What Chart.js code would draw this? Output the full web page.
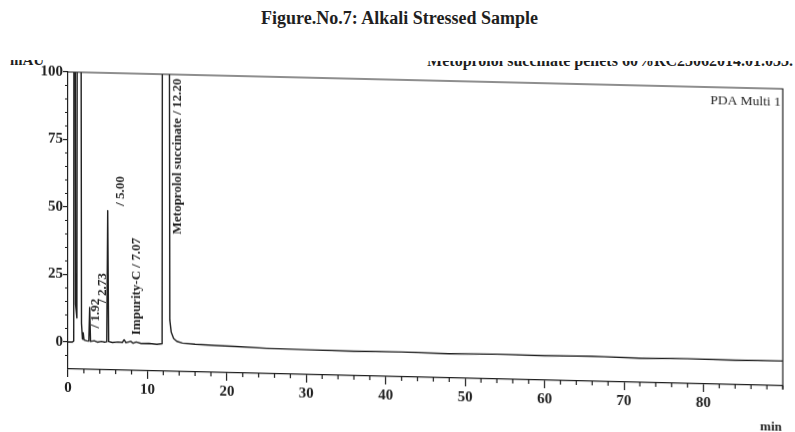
<!DOCTYPE html>
<html>
<head>
<meta charset="utf-8">
<title>Alkali Stressed Sample</title>
<script src="https://cdn.jsdelivr.net/npm/chart.js@4.4.1/dist/chart.umd.min.js"></script>
<style>
  html, body { margin: 0; padding: 0; background: #fff; }
  body { width: 795px; height: 432px; position: relative; overflow: hidden;
         font-family: "Liberation Serif", "Times New Roman", serif; color: #1f1f1f; }
  #title { position: absolute; top: 9px; left: 2px; width: 795px; text-align: center;
           font-weight: bold; font-size: 18px; line-height: 1; }
  /* printout header, cut off at the top edge of the scan */
  .strip { position: absolute; left: 0; width: 795px; height: 16px; overflow: hidden; }
  .strip span { position: absolute; font-weight: bold; white-space: nowrap; line-height: 1; }
  #unitStrip { top: 60px; }
  #fileStrip { top: 61px; }
  #unit { left: 10px; top: -7px; font-size: 15px; }
  #file { right: 2px; top: -8px; font-size: 16px; }
  /* the scanned trace sits slightly tilted on the page */
  #plot { position: absolute; left: 0; top: 0; width: 795px; height: 432px;
          transform-origin: 68px 342px; transform: skewY(1.35deg); }
</style>
</head>
<body>
<div id="title">Figure.No.7: Alkali Stressed Sample</div>
<div class="strip" id="unitStrip"><span id="unit">mAU</span></div>
<div class="strip" id="fileStrip"><span id="file">Metoprolol succinate pellets 60%RC25062014.01.033.</span></div>
<div id="plot"><canvas id="chart" width="795" height="432"></canvas></div>

<script>
  'use strict';

  // ---- chromatogram trace (time in min, absorbance in mAU) ----
  const retentionTimes = [
    0, 0.55, 0.72, 0.82, 0.95, 1.12, 1.30, 1.42, 1.50, 1.70, 1.82, 1.92, 2.02,
    2.35, 2.62, 2.73, 2.84, 3.30, 3.70, 4.20, 4.60, 4.88, 5.00, 5.12, 5.60,
    6.30, 6.85, 7.07, 7.30, 7.90, 8.20, 8.60, 9.20, 10.2, 11.2, 11.85, 12.20,
    12.82, 13.00, 13.30, 13.70, 14.40, 16.0, 18.5, 21.0, 25.0, 30.0, 36.0,
    42.0, 48.0, 54.0, 60.0, 66.0, 72.0, 78.0, 84.0, 90.0
  ];
  const signal = [
    0, 0, 0.4, 420, 14, 9, 520, 180, 450, 7, 1.2, 3.5, 0.9,
    0.6, 0.5, 13, 0.4, 0.7, 0.2, 0.5, 0.3, 0.4, 49, 0.5, 0.2,
    0.4, 0.3, 1.3, 0.2, 0.8, 0.1, 0.6, 0.1, 0.2, -0.1, 0.2, 1250,
    9, 4.5, 2.2, 1.2, 0.6, 0.3, 0, -0.2, -0.6, -0.8, -0.9,
    -0.8, -1.0, -0.8, -0.9, -0.7, -1.0, -0.8, -0.9, -0.8
  ];

  // ---- integrated peaks ----
  const peakTimes = [1.92, 2.73, 5.00, 7.07, 12.20];
  const peakNames = ['', '', '', 'Impurity-C', 'Metoprolol succinate'];

  // ---- axes ----
  const xTickValues = [0, 10, 20, 30, 40, 50, 60, 70, 80];
  const yTickValues = [0, 25, 50, 75, 100];
  const xMin = 0, xMax = 90, xMinorStep = 2;
  const yMin = -10, yMax = 100, yMinorStep = 5;

  const ink = '#1f1f1f';
  const serif = '"Liberation Serif", "Times New Roman", serif';

  /** Frame, minor ticks, peak annotations and detector caption. */
  const chromatogramDecor = {
    id: 'chromatogramDecor',
    afterDatasetsDraw(chart) {
      const { ctx, chartArea: a, scales: { x, y } } = chart;
      ctx.save();
      ctx.strokeStyle = ink;
      ctx.lineWidth = 1.2;

      // top and right edges of the plot box
      ctx.beginPath();
      ctx.moveTo(a.left, a.top);
      ctx.lineTo(a.right, a.top);
      ctx.lineTo(a.right, a.bottom + 3);
      ctx.stroke();

      // minor ticks
      ctx.beginPath();
      for (let t = xMin; t <= xMax; t += xMinorStep) {
        if (xTickValues.includes(t)) continue;
        const px = x.getPixelForValue(t);
        ctx.moveTo(px, a.bottom);
        ctx.lineTo(px, a.bottom + 4);
      }
      for (let v = yMin + yMinorStep; v < yMax; v += yMinorStep) {
        if (yTickValues.includes(v)) continue;
        const py = y.getPixelForValue(v);
        ctx.moveTo(a.left - 3, py);
        ctx.lineTo(a.left, py);
      }
      ctx.stroke();

      // peak labels, written upwards just right of each apex
      ctx.fillStyle = ink;
      ctx.font = 'bold 13px ' + serif;
      ctx.textBaseline = 'alphabetic';
      peakTimes.forEach((rt, i) => {
        const h = signal[retentionTimes.indexOf(rt)];
        const px = x.getPixelForValue(rt) + 16;
        const text = (peakNames[i] ? peakNames[i] + ' ' : '') + '/ ' + rt.toFixed(2);
        ctx.save();
        if (h > yMax) {
          // off-scale peak: hang the label from the top of the box
          ctx.translate(px, a.top + 4);
          ctx.rotate(-Math.PI / 2);
          ctx.textAlign = 'right';
        } else {
          ctx.translate(px, y.getPixelForValue(h) - 5);
          ctx.rotate(-Math.PI / 2);
          ctx.textAlign = 'left';
        }
        ctx.fillText(text, 0, 0);
        ctx.restore();
      });

      ctx.font = '13.5px ' + serif;
      ctx.textAlign = 'right';
      ctx.textBaseline = 'middle';
      ctx.fillText('PDA Multi 1', a.right - 2, a.top + 13);

      ctx.font = 'bold 13px ' + serif;
      ctx.fillText('min', a.right - 1, a.bottom + 42);
      ctx.restore();
    }
  };

  const tickFont = { family: serif, size: 15, weight: 'bold' };

  new Chart(document.getElementById('chart'), {
    type: 'line',
    data: {
      datasets: [{
        data: retentionTimes.map((t, i) => ({ x: t, y: signal[i] })),
        borderColor: ink,
        borderWidth: 1.4,
        borderJoinStyle: 'round',
        pointRadius: 0,
        tension: 0,
        fill: false
      }]
    },
    options: {
      responsive: false,
      animation: false,
      devicePixelRatio: 1,
      layout: { padding: { top: 72, right: 12, left: 0, bottom: 0 } },
      plugins: { legend: { display: false }, tooltip: { enabled: false } },
      scales: {
        x: {
          type: 'linear',
          min: xMin,
          max: xMax,
          afterBuildTicks: (scale) => { scale.ticks = xTickValues.map(v => ({ value: v })); },
          afterFit: (scale) => { scale.height = 63; },
          border: { color: ink, width: 1.2 },
          grid: { drawOnChartArea: false, drawTicks: true, tickLength: 8, color: ink, lineWidth: 1.2 },
          ticks: { font: tickFont, color: ink, padding: 2, maxRotation: 0, autoSkip: false }
        },
        y: {
          min: yMin,
          max: yMax,
          afterBuildTicks: (scale) => { scale.ticks = yTickValues.map(v => ({ value: v })); },
          afterFit: (scale) => { scale.width = 68; },
          border: { color: ink, width: 1.2 },
          grid: { drawOnChartArea: false, drawTicks: true, tickLength: 5, color: ink, lineWidth: 1.2 },
          ticks: { font: tickFont, color: ink, padding: 0 }
        }
      }
    },
    plugins: [chromatogramDecor]
  });
</script>
</body>
</html>
